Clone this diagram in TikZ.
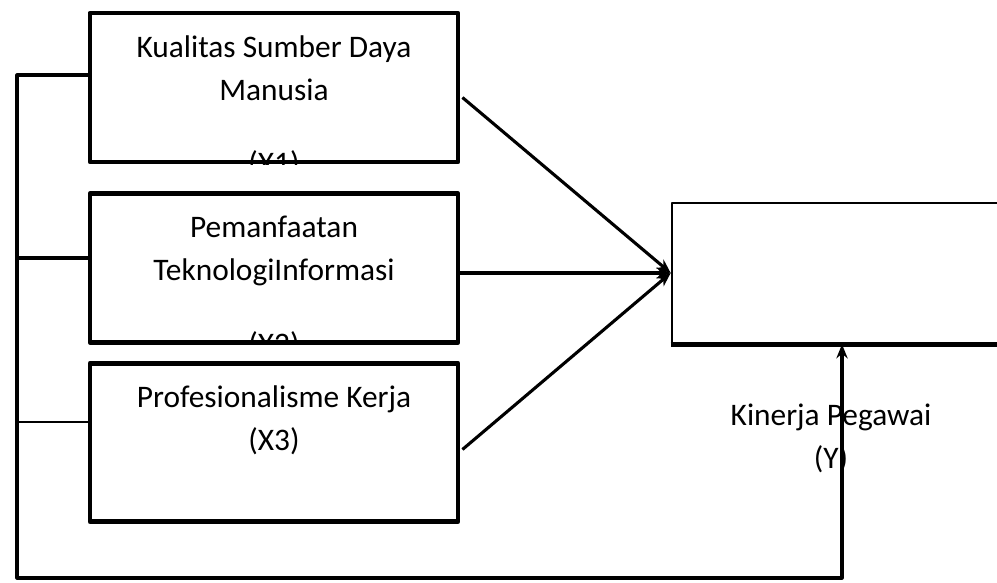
\documentclass[tikz,border=0pt]{standalone}
\usepackage{fontspec}
\setmainfont{Carlito}
\usetikzlibrary{calc,arrows.meta}
\begin{document}
\begin{tikzpicture}[x=0.025cm, y=-0.025cm, line join=round, >={Stealth[length=10pt,width=8pt]},
    font=\fontsize{22.3}{30.5}\selectfont]
    \tikzset{varbox/.style={draw, line width=3.4pt, minimum width=9.2cm, inner sep=0pt},
        label style/.style={align=center, inner sep=0pt, anchor=base},
        link/.style={line width=2.2pt}}
    \clip (0,0) rectangle (997,583);
    % kotak variabel bebas
    \node[varbox, minimum height=3.72cm] (X1) at (274,87.5) {};
    \node[varbox, minimum height=3.72cm] (X2) at (274,268) {};
    \node[varbox, minimum height=3.95cm] (X3) at (274,442.5) {};
    \node[draw, line width=1.8pt, minimum width=10cm, minimum height=3.5cm] (Y) at (872,273) {};
    \draw[line width=3.6pt] (Y.south west) -- (Y.south east);
    \begin{scope}
        \clip (X1.south west) rectangle (X1.north east);
        \node[label style] (tX1) at (274,174) {Kualitas Sumber Daya\\Manusia\\[22pt](X1)};
    \end{scope}
    \begin{scope}
        \clip (X2.south west) rectangle (X2.north east);
        \node[label style] (tX2) at (274,354) {Pemanfaatan\\TeknologiInformasi\\[22pt](X2)};
    \end{scope}
    \node[label style] (tX3) at (274,450) {Profesionalisme Kerja\\(X3)};
    \node[label style] (tY) at (831,468) {Kinerja Pegawai\\(Y)};
    % garis umpan balik
    \coordinate (b1) at (17,75);
    \coordinate (b2) at (17,258);
    \coordinate (b3) at (17,422);
    \coordinate (kiri) at (17,578);
    \coordinate (kanan) at (842,578);
    \draw[link, ->] (b1 -| X1.west) -- (b1) -- (kiri) -- (kanan) -- (kanan |- Y.south);
    \draw[line width=2.8pt] (b2) -- (b2 -| X2.west);
    \draw[line width=2pt] (b3) -- (b3 -| X3.west);
    % panah ke Y
    \draw[link, ->] ($(X1.east)+(2,10)$) -- (Y.west);
    \draw[link, ->] (X2.east |- Y.west) -- (Y.west);
    \draw[link, ->] ($(X3.east)+(2,7)$) -- (Y.west);
\end{tikzpicture}
\end{document}
